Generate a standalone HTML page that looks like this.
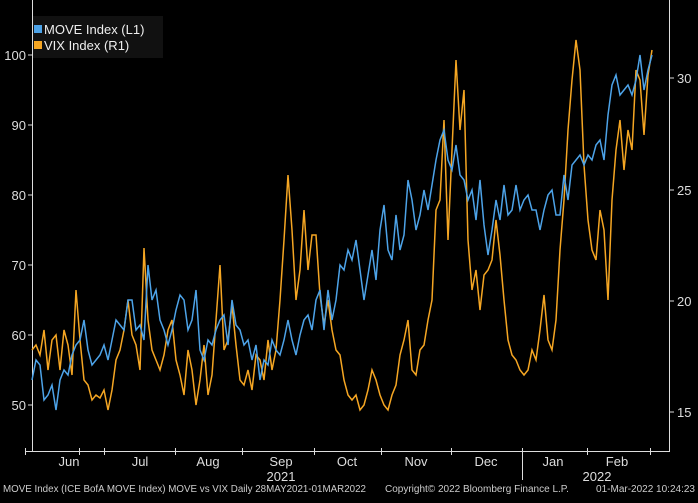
<!DOCTYPE html><html><head><style>body{margin:0;background:#000;width:698px;height:498px;overflow:hidden;font-family:"Liberation Sans",sans-serif}</style></head><body>
<svg width="698" height="498" xmlns="http://www.w3.org/2000/svg" font-family="Liberation Sans, sans-serif">
<rect width="698" height="498" fill="#000"/>
<g stroke="#ddd" stroke-width="1" fill="none">
<line x1="32.5" y1="0" x2="32.5" y2="452"/>
<line x1="669.5" y1="0" x2="669.5" y2="452"/>
<line x1="25" y1="451.5" x2="669" y2="451.5"/>
<line x1="522.5" y1="452" x2="522.5" y2="480"/>
<line x1="25.5" y1="448" x2="25.5" y2="455"/><line x1="79.5" y1="448" x2="79.5" y2="455"/><line x1="104.5" y1="448" x2="104.5" y2="455"/><line x1="175.5" y1="448" x2="175.5" y2="455"/><line x1="242.5" y1="448" x2="242.5" y2="455"/><line x1="314.5" y1="448" x2="314.5" y2="455"/><line x1="381.5" y1="448" x2="381.5" y2="455"/><line x1="451.5" y1="448" x2="451.5" y2="455"/><line x1="522.5" y1="448" x2="522.5" y2="455"/><line x1="587.5" y1="448" x2="587.5" y2="455"/><line x1="650.5" y1="448" x2="650.5" y2="455"/>
</g>
<g fill="#ddd" font-size="13" text-anchor="end">
<text x="26" y="60">100</text><text x="26" y="130">90</text><text x="26" y="200">80</text><text x="26" y="270">70</text><text x="26" y="340">60</text><text x="26" y="410">50</text>
</g>
<g stroke="#ddd"><line x1="28" y1="55" x2="32" y2="55"/><line x1="28" y1="125" x2="32" y2="125"/><line x1="28" y1="195" x2="32" y2="195"/><line x1="28" y1="265" x2="32" y2="265"/><line x1="28" y1="335" x2="32" y2="335"/><line x1="28" y1="405" x2="32" y2="405"/>
<line x1="670" y1="78" x2="674" y2="78"/><line x1="670" y1="190" x2="674" y2="190"/><line x1="670" y1="301" x2="674" y2="301"/><line x1="670" y1="412" x2="674" y2="412"/></g>
<g fill="#ddd" font-size="13"><text x="677" y="83">30</text><text x="677" y="195">25</text><text x="677" y="306">20</text><text x="677" y="417">15</text></g>
<g fill="#ddd" font-size="13" text-anchor="middle">
<text x="69" y="466">Jun</text><text x="140" y="466">Jul</text><text x="208" y="466">Aug</text><text x="281" y="466">Sep</text><text x="347" y="466">Oct</text><text x="416" y="466">Nov</text><text x="486" y="466">Dec</text><text x="553" y="466">Jan</text><text x="617" y="466">Feb</text>
<text x="281" y="481">2021</text><text x="597" y="481">2022</text></g>
<polyline fill="none" stroke="#f5a623" stroke-width="1.5" points="32,350 36,345 40,355 44,330 48,370 52,340 56,335 60,370 64,330 68,345 72,375 76,290 80,340 84,380 88,385 92,400 96,395 100,398 104,390 108,410 112,390 116,360 120,350 124,330 128,300 132,335 136,345 140,370 144,248 148,320 152,350 156,360 160,370 164,355 168,330 172,320 176,360 180,375 184,395 188,350 192,370 196,405 200,380 204,345 208,395 212,375 216,320 220,265 224,350 228,340 232,305 236,345 240,380 244,385 248,370 252,390 256,355 260,360 264,380 268,340 272,370 276,350 280,300 284,240 288,175 292,230 296,300 300,270 304,210 308,270 312,235 316,235 320,295 324,325 328,300 332,330 336,350 340,355 344,380 348,395 352,400 356,395 360,410 364,405 368,390 372,370 376,380 380,395 384,405 388,410 392,395 396,385 400,355 404,340 408,320 412,370 416,375 420,350 424,345 428,320 432,300 436,210 440,200 444,120 448,240 452,150 456,60 460,130 464,90 468,240 472,290 476,270 480,310 484,275 488,270 492,260 496,220 500,255 504,300 508,340 512,355 516,360 520,370 524,375 528,370 532,350 536,360 540,330 544,295 548,340 552,350 556,320 560,250 564,200 568,130 572,80 576,40 580,70 584,165 588,220 592,250 596,260 600,210 604,230 608,300 612,200 616,150 620,120 624,170 628,130 632,150 636,70 640,80 644,135 648,75 652,50"/>
<polyline fill="none" stroke="#4da3e8" stroke-width="1.5" points="32,380 36,360 40,365 44,400 48,395 52,385 56,410 60,380 64,370 68,375 72,355 76,345 80,340 84,320 88,350 92,365 96,360 100,355 104,345 108,360 112,340 116,320 120,325 124,330 128,300 132,300 136,330 140,325 144,340 148,265 152,300 156,290 160,320 164,330 168,345 172,330 176,310 180,295 184,300 188,330 192,320 196,290 200,350 204,360 208,340 212,345 216,330 220,320 224,315 228,345 232,300 236,325 240,330 244,345 248,340 252,360 256,345 260,380 264,360 268,365 272,340 276,350 280,355 284,340 288,320 292,340 296,355 300,335 304,320 308,315 312,330 316,300 320,290 324,330 328,290 332,320 336,300 340,265 344,270 348,250 352,260 356,240 360,270 364,300 368,275 372,250 376,280 380,230 384,205 388,250 392,260 396,215 400,250 404,235 408,180 412,200 416,230 420,215 424,190 428,210 432,185 436,160 440,140 444,130 448,160 452,170 456,145 460,175 464,180 468,200 472,190 476,220 480,180 484,225 488,255 492,230 496,200 500,220 504,185 508,215 512,210 516,185 520,210 524,200 528,195 532,210 536,210 540,230 544,210 548,195 552,190 556,215 560,215 564,175 568,200 572,165 576,160 580,155 584,165 588,155 592,160 596,145 600,140 604,160 608,115 612,85 616,75 620,95 624,90 628,85 632,95 636,80 640,55 644,90 648,70 652,55"/>
<rect x="33" y="16" width="130" height="42" fill="#111"/>
<rect x="34" y="25" width="8" height="8" fill="#4da3e8"/><rect x="34" y="41" width="8" height="8" fill="#f5a623"/>
<g fill="#eee" font-size="13"><text x="44" y="34">MOVE Index (L1)</text><text x="44" y="50">VIX Index (R1)</text></g>
<g fill="#ccc" font-size="10"><text x="3" y="492" textLength="363" lengthAdjust="spacingAndGlyphs">MOVE Index (ICE BofA MOVE Index) MOVE vs VIX  Daily 28MAY2021-01MAR2022</text><text x="385" y="492">Copyright© 2022 Bloomberg Finance L.P.</text><text x="695" y="492" text-anchor="end">01-Mar-2022 10:24:23</text></g>
</svg></body></html>
